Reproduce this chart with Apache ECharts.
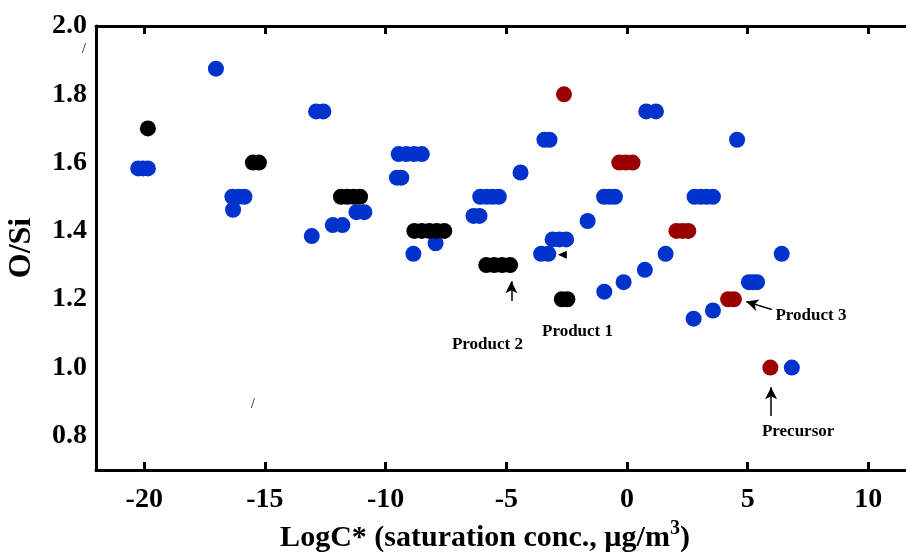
<!DOCTYPE html>
<html>
<head>
<meta charset="utf-8">
<script src="https://cdn.jsdelivr.net/npm/echarts@6/dist/echarts.min.js"></script>
<style>html,body{margin:0;padding:0;background:#fff;}#c{width:906px;height:552px;}</style>
</head>
<body>
<div id="c"></div>
<script>
// ---- data ----
const blueLogC = [-17.03, -20.25, -20.05, -19.85, -16.35, -16.1, -15.85, -16.32,
  -12.88, -12.58, -9.46, -9.14, -8.82, -8.5, -9.53, -9.35, -11.21, -10.88,
  -12.19, -11.79, -13.06, -7.93, -8.85, -3.42, -3.21, -4.41,
  -6.08, -5.82, -5.57, -5.31, -6.36, -6.11, -1.63, -3.08, -2.8, -2.52, -3.56, -3.26,
  0.8, 1.2, 4.56, -0.95, -0.72, -0.5, 2.8, 3.05, 3.3, 3.56, 1.6, 6.41,
  0.74, -0.14, -0.94, 5.05, 5.22, 5.39, 3.56, 2.76, 6.83];
const blueOSi = [1.875, 1.583, 1.583, 1.583, 1.5, 1.5, 1.5, 1.462,
  1.75, 1.75, 1.625, 1.625, 1.625, 1.625, 1.556, 1.556, 1.455, 1.455,
  1.417, 1.417, 1.385, 1.364, 1.333, 1.667, 1.667, 1.571,
  1.5, 1.5, 1.5, 1.5, 1.444, 1.444, 1.429, 1.375, 1.375, 1.375, 1.333, 1.333,
  1.75, 1.75, 1.667, 1.5, 1.5, 1.5, 1.5, 1.5, 1.5, 1.5, 1.333, 1.333,
  1.286, 1.25, 1.222, 1.25, 1.25, 1.25, 1.167, 1.143, 1.0];
const blackLogC = [-19.85, -15.5, -15.25, -11.85, -11.59, -11.32, -11.06,
  -8.81, -8.5, -8.19, -7.88, -7.57, -5.83, -5.5, -5.17, -4.84, -2.7, -2.47];
const blackOSi = [1.7, 1.6, 1.6, 1.5, 1.5, 1.5, 1.5,
  1.4, 1.4, 1.4, 1.4, 1.4, 1.3, 1.3, 1.3, 1.3, 1.2, 1.2];
const redLogC = [-2.61, -0.32, -0.05, 0.23, 2.05, 2.3, 2.54, 4.19, 4.43, 5.94];
const redOSi = [1.8, 1.6, 1.6, 1.6, 1.4, 1.4, 1.4, 1.2, 1.2, 1.0];

const xTicks = [-20, -15, -10, -5, 0, 5, 10];
const yTicks = [0.8, 1.0, 1.2, 1.4, 1.6, 1.8, 2.0];

const noteText = ['Product 2', 'Product 1', 'Product 3', 'Precursor'];
const noteLogC = [-5.78, -2.05, 7.62, 7.09];
const noteOSi = [1.067, 1.105, 1.152, 0.811];
// arrows: [fromX, fromY, toX, toY]
const arrows = [[-4.79, 1.195, -4.79, 1.253], [6.0, 1.17, 4.94, 1.193], [5.97, 0.858, 5.97, 0.942]];
const arrowHeadP1 = [[-2.68, 1.33]];

const zip = (a, b) => a.map((v, i) => [v, b[i]]);
const font = '"Liberation Serif", "Times New Roman", serif';

const chart = echarts.init(document.getElementById('c'));
chart.setOption({
  animation: false,
  backgroundColor: '#fff',
  grid: { left: 96, right: 0, top: 26, bottom: 82, containLabel: false, outerBoundsMode: 'none' },
  xAxis: [{
    type: 'value', position: 'bottom', min: -22, max: 11.56,
    axisLine: { show: true, onZero: false, lineStyle: { color: '#000', width: 3 } },
    axisTick: { show: true, inside: true, length: 8, lineStyle: { color: '#000', width: 3 }, customValues: xTicks },
    axisLabel: { show: true, margin: 16, color: '#000', fontFamily: font, fontWeight: 'bold', fontSize: 28, customValues: xTicks },
    splitLine: { show: false },
    name: 'LogC* (saturation conc., µg/m{sup|3})',
    nameLocation: 'middle', nameGap: 48,
    nameTextStyle: { color: '#000', fontFamily: font, fontWeight: 'bold', fontSize: 30, padding: [0, 32, 0, 0],
      rich: { sup: { fontFamily: font, fontWeight: 'bold', fontSize: 20, verticalAlign: 'top', padding: [0, 0, 18, 0] } } }
  }, {
    type: 'value', position: 'top', min: -22, max: 11.56,
    axisLine: { show: true, onZero: false, lineStyle: { color: '#000', width: 3 } },
    axisTick: { show: true, inside: true, length: 8, lineStyle: { color: '#000', width: 3 }, customValues: xTicks },
    axisLabel: { show: false },
    splitLine: { show: false }
  }],
  yAxis: {
    type: 'value', min: 0.7, max: 2.0,
    axisLine: { show: true, onZero: false, lineStyle: { color: '#000', width: 3 } },
    axisTick: { show: false },
    axisLabel: { margin: 9, color: '#000', fontFamily: font, fontWeight: 'bold', fontSize: 28,
      customValues: yTicks, formatter: v => v.toFixed(1) },
    splitLine: { show: false },
    name: 'O/Si', nameLocation: 'middle', nameGap: 58,
    nameTextStyle: { color: '#000', fontFamily: font, fontWeight: 'bold', fontSize: 32 }
  },
  series: [
    { type: 'scatter', name: 'blue', data: zip(blueLogC, blueOSi), symbolSize: 16,
      itemStyle: { color: '#0033cc', opacity: 1 } },
    { type: 'scatter', name: 'black', data: zip(blackLogC, blackOSi), symbolSize: 16,
      itemStyle: { color: '#000', opacity: 1 } },
    { type: 'scatter', name: 'red', data: zip(redLogC, redOSi), symbolSize: 16,
      itemStyle: { color: '#990000', opacity: 1 } },
    { type: 'scatter', name: 'notes', symbolSize: 0, silent: true,
      itemStyle: { opacity: 1, color: '#000' },
      data: noteText.map((t, i) => ({ value: [noteLogC[i], noteOSi[i]], name: t })),
      label: { show: true, position: 'inside', formatter: p => p.name, color: '#000', opacity: 1,
        textBorderWidth: 0, fontFamily: font, fontWeight: 'bold', fontSize: 17 },
      markLine: {
        silent: true, symbol: ['none', 'arrow'], symbolSize: [9, 12],
        lineStyle: { color: '#000', width: 1.5, type: 'solid', opacity: 1 },
        label: { show: false },
        data: arrows.map(a => [{ coord: [a[0], a[1]] }, { coord: [a[2], a[3]] }])
      }
    },
    { type: 'scatter', name: 'head', symbol: 'triangle', symbolRotate: 90, symbolSize: [8, 9],
      data: arrowHeadP1, silent: true, itemStyle: { color: '#000', opacity: 1 } }
  ],
  graphic: [
    { type: 'text', left: 82, top: 42, style: { text: '/', font: '14px ' + font, fill: '#000' } },
    { type: 'text', left: 251, top: 397, style: { text: '/', font: '14px ' + font, fill: '#000' } }
  ]
});
</script>
</body>
</html>
